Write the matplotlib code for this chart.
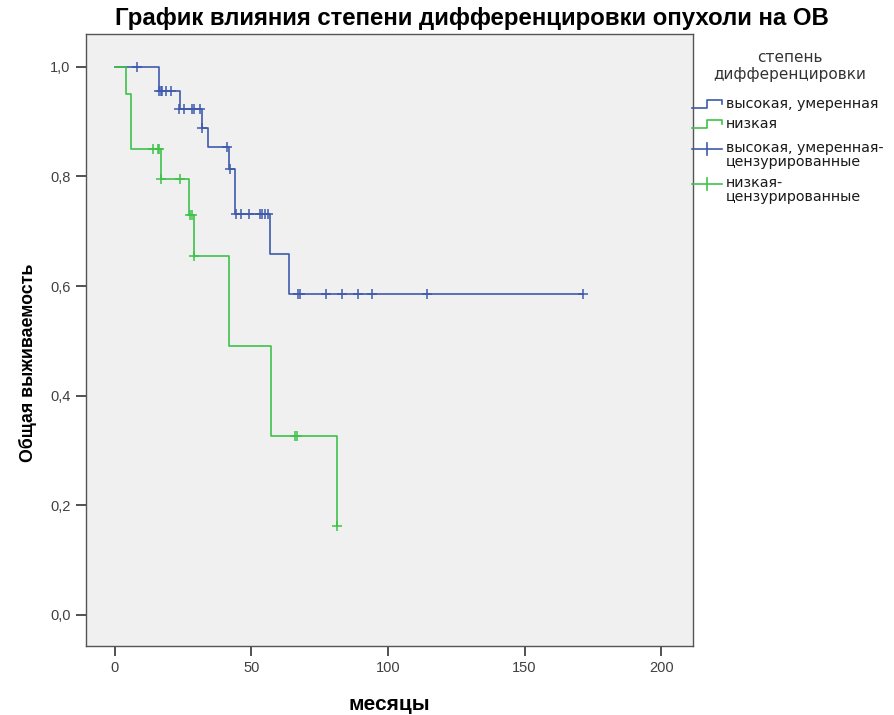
import numpy as np
import matplotlib.pyplot as plt
from matplotlib.lines import Line2D
from matplotlib.ticker import FuncFormatter

plt.rcParams['font.family'] = ['Liberation Sans', 'DejaVu Sans']

# Kaplan-Meier steps, group "высокая, умеренная"
hi_t = [0, 16, 23.8, 31.9, 34, 41.8, 44, 56.8, 63.8, 171.3]
hi_s = [1.0, 0.955, 0.923, 0.889, 0.853, 0.814, 0.732, 0.659, 0.585, 0.585]
# censored times with the survival level they sit on
hi_ct = [8, 16.2, 16.8, 17.4, 18.7, 20.5, 23.4, 25.3, 28.2, 29, 31, 32, 41, 42,
         44.2, 46, 49, 53, 53.7, 55, 56.2,
         67.1, 67.8, 77.2, 83, 89.1, 94.2, 114.2, 171.3]
hi_cs = [1.0, 0.955, 0.955, 0.955, 0.955, 0.955, 0.923, 0.923, 0.923, 0.923, 0.923,
         0.889, 0.853, 0.814,
         0.732, 0.732, 0.732, 0.732, 0.732, 0.732, 0.732,
         0.585, 0.585, 0.585, 0.585, 0.585, 0.585, 0.585, 0.585]

# group "низкая"
lo_t = [0, 3.9, 5.9, 16.7, 27.1, 29, 41.9, 57.1, 81.2]
lo_s = [1.0, 0.95, 0.85, 0.795, 0.729, 0.655, 0.491, 0.327, 0.162]
lo_ct = [13.8, 15.6, 16.2, 16.7, 23.8, 27.5, 28.2, 29, 65.9, 66.8, 81.2]
lo_cs = [0.85, 0.85, 0.85, 0.795, 0.795, 0.729, 0.729, 0.655, 0.327, 0.327, 0.162]

blue = '#3f5aad'
green = '#3ec24a'

fig = plt.figure(figsize=(8.94, 7.15), dpi=100)
ax = fig.add_axes([0.0962, 0.0965, 0.679, 0.856])
ax.set_facecolor('#f0f0f0')

ax.step(hi_t, hi_s, where='post', color=blue, lw=1.2)
ax.step(lo_t, lo_s, where='post', color=green, lw=1.2)
ax.plot(hi_ct, hi_cs, ls='none', marker='+', ms=7, mew=1.1, color=blue)
ax.plot(lo_ct, lo_cs, ls='none', marker='+', ms=7, mew=1.1, color=green)

ax.set_xlim(-10.6, 211.7)
ax.set_ylim(-0.057, 1.06)
ax.set_xticks([0, 50, 100, 150, 200])
ax.set_yticks([0, 0.2, 0.4, 0.6, 0.8, 1.0])
ax.yaxis.set_major_formatter(FuncFormatter(lambda v, p: f'{v:.1f}'.replace('.', ',')))
ax.tick_params(direction='out', length=7, width=1.2, color='#333333',
               labelsize=10.5, labelcolor='#404040', pad=4)
for sp in ax.spines.values():
    sp.set_color('#555555')
    sp.set_linewidth(1.0)

ax.set_xlabel('месяцы', fontsize=15, fontweight='bold', labelpad=14)
ax.set_ylabel('Общая выживаемость', fontsize=12.8, fontweight='bold')
ax.yaxis.set_label_coords(-0.0815, 0.462)
fig.text(0.528, 0.974, 'График влияния степени дифференцировки опухоли на ОВ',
         ha='center', va='center', fontsize=17.3, fontweight='bold')

# legend drawn by hand (pixel coordinates -> figure fraction)
W, H = 894, 715
def fx(px):
    return px / W
def fy(py):
    return 1 - py / H

fig.text(fx(790), fy(66), 'степень\nдифференцировки', ha='center', va='center',
         fontsize=11, color='#333333', linespacing=1.2, family='DejaVu Sans')
legend_items = [
    (blue, 'step', 'высокая, умеренная', 104),
    (green, 'step', 'низкая', 124),
    (blue, 'cens', 'высокая, умеренная-\nцензурированные', 155),
    (green, 'cens', 'низкая-\nцензурированные', 190),
]
for col, kind, label, yc in legend_items:
    if kind == 'step':
        xs = [fx(692), fx(707), fx(707), fx(722), fx(722)]
        ys = [fy(yc + 4), fy(yc + 4), fy(yc - 4), fy(yc - 4), fy(yc)]
        fig.add_artist(Line2D(xs, ys, color=col, lw=1.2))
    else:
        ym = yc - 6
        fig.add_artist(Line2D([fx(692), fx(722)], [fy(ym), fy(ym)], color=col, lw=1.2))
        fig.add_artist(Line2D([fx(707), fx(707)], [fy(ym - 6), fy(ym + 6)], color=col, lw=1.2))
    fig.text(fx(726), fy(yc), label, ha='left', va='center', fontsize=10.3,
             color='#1a1a1a', linespacing=1.0, family='DejaVu Sans')

fig.savefig('out.png', dpi=100)
